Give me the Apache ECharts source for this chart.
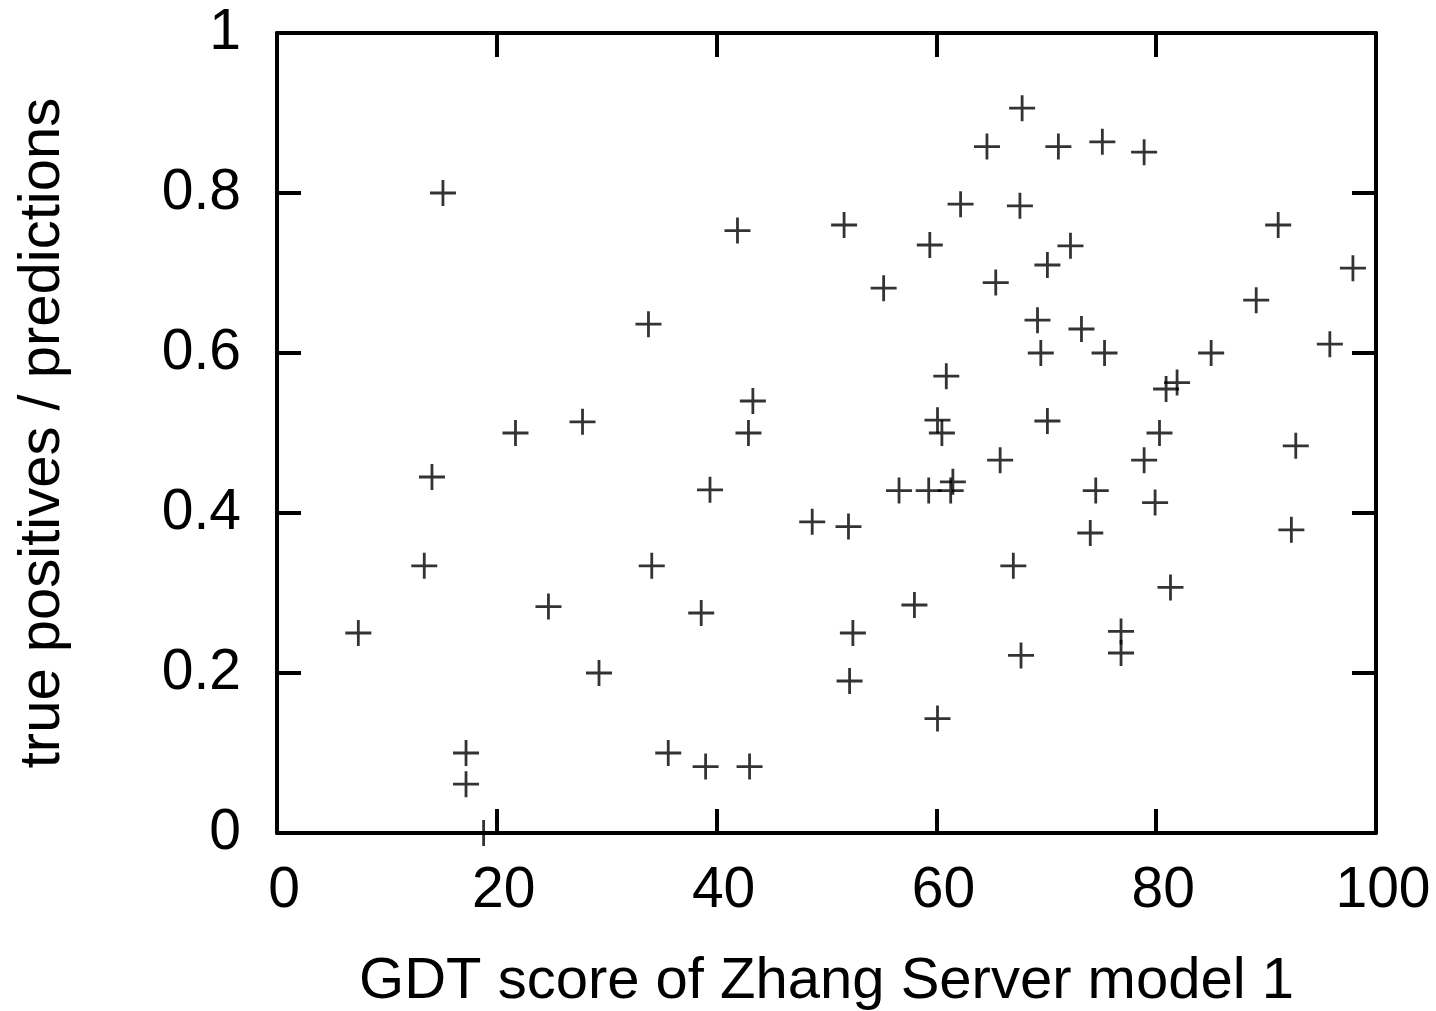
<!DOCTYPE html>
<html>
<head>
<meta charset="utf-8">
<title>GDT score vs precision</title>
<script src="https://cdn.jsdelivr.net/npm/echarts@6/dist/echarts.min.js"></script>
<style>
  html, body { margin: 0; padding: 0; background: #fff; }
  #chart { width: 1436px; height: 1011px; }
</style>
</head>
<body>
<div id="chart"></div>
<script>
// GDT score of Zhang Server model 1 (x)
const gdtScores = [
  7.4, 15.1, 14.1, 13.4, 17.2, 17.2, 18.8, 21.7, 24.7, 27.8,
  29.3, 33.8, 34.1, 35.6, 38.6, 39.0, 39.4, 41.9, 42.9, 43.3,
  43.0, 48.7, 51.6, 52.0, 52.4, 52.1, 55.2, 56.6, 58.0, 59.4,
  59.3, 60.1, 60.5, 60.9, 61.3, 61.5, 60.1, 62.2, 64.6, 65.4,
  65.8, 67.0, 67.8, 67.6, 67.7, 69.2, 69.5, 70.1, 70.1, 71.1,
  72.2, 73.2, 74.0, 74.5, 75.1, 75.3, 76.8, 76.8, 78.9, 78.9,
  80.3, 79.9, 80.9, 81.9, 81.3, 85.0, 89.1, 91.1, 92.3, 92.7,
  95.8, 97.9
]
// true positives / predictions (y)
const ratios = [
  0.25, 0.80, 0.445, 0.334, 0.10, 0.061, 0.0, 0.50, 0.283, 0.514,
  0.20, 0.636, 0.334, 0.10, 0.275, 0.083, 0.429, 0.753, 0.50, 0.54,
  0.083, 0.389, 0.76, 0.383, 0.25, 0.19, 0.681, 0.428, 0.285, 0.735,
  0.428, 0.516, 0.50, 0.571, 0.428, 0.439, 0.143, 0.786, 0.858, 0.688,
  0.466, 0.334, 0.906, 0.784, 0.222, 0.641, 0.60, 0.71, 0.515, 0.858,
  0.734, 0.63, 0.375, 0.428, 0.864, 0.60, 0.252, 0.225, 0.851, 0.466,
  0.50, 0.413, 0.555, 0.563, 0.307, 0.60, 0.666, 0.76, 0.379, 0.484,
  0.611, 0.706
]
const xTicks = [0, 20, 40, 60, 80, 100]
const yTicks = [0, 0.2, 0.4, 0.6, 0.8, 1]

const points = gdtScores.map((x, i) => [x, ratios[i]])

const font = 'Liberation Sans, Arial, sans-serif'
const lineStyle = { color: '#000', width: 4 }
const tickStyle = { color: '#000', width: 4 }

// 十字形标记 (gnuplot 风格的 "+")
const plusPath = 'path://M11.6,0H14.4V11.6H26V14.4H14.4V26H11.6V14.4H0V11.6H11.6Z'

const chart = echarts.init(document.getElementById('chart'), null, { renderer: 'canvas' })

chart.setOption({
  backgroundColor: '#fff',
  animation: false,
  grid: { left: 277, top: 33, width: 1099, height: 800, outerBoundsMode: 'none', containLabel: false },
  xAxis: [
    {
      type: 'value',
      min: 0,
      max: 100,
      interval: 20,
      position: 'bottom',
      name: 'GDT score of Zhang Server model 1',
      nameLocation: 'middle',
      nameGap: 120,
      nameTextStyle: { color: '#000', fontSize: 58, fontFamily: font },
      axisLine: { show: true, onZero: false, lineStyle: lineStyle },
      axisTick: { show: true, inside: true, length: 24, lineStyle: tickStyle },
      axisLabel: {
        color: '#000', fontSize: 57, fontFamily: font, margin: 30,
        padding: [0, 0, 0, 14],
        formatter: v => xTicks.includes(v) ? String(v) : ''
      },
      splitLine: { show: false }
    },
    {
      type: 'value',
      min: 0,
      max: 100,
      interval: 20,
      position: 'top',
      axisLine: { show: true, onZero: false, lineStyle: lineStyle },
      axisTick: { show: true, inside: true, length: 24, lineStyle: tickStyle },
      axisLabel: { show: false },
      splitLine: { show: false }
    }
  ],
  yAxis: [
    {
      type: 'value',
      min: 0,
      max: 1,
      interval: 0.2,
      position: 'left',
      name: 'true positives / predictions',
      nameLocation: 'middle',
      nameGap: 205,
      nameTextStyle: { color: '#000', fontSize: 58, fontFamily: font },
      axisLine: { show: true, onZero: false, lineStyle: lineStyle },
      axisTick: { show: true, inside: true, length: 24, lineStyle: tickStyle },
      axisLabel: {
        color: '#000', fontSize: 57, fontFamily: font, margin: 36,
        padding: [6, 0, 0, 0],
        formatter: v => {
          const t = yTicks.find(k => Math.abs(k - v) < 1e-9)
          return t === undefined ? '' : String(t)
        }
      },
      splitLine: { show: false }
    },
    {
      type: 'value',
      min: 0,
      max: 1,
      interval: 0.2,
      position: 'right',
      axisLine: { show: true, onZero: false, lineStyle: lineStyle },
      axisTick: { show: true, inside: true, length: 24, lineStyle: tickStyle },
      axisLabel: { show: false },
      splitLine: { show: false }
    }
  ],
  series: [
    {
      type: 'scatter',
      xAxisIndex: 0,
      yAxisIndex: 0,
      clip: false,
      symbol: plusPath,
      symbolSize: 26,
      itemStyle: { color: '#000' },
      data: points
    }
  ]
})
</script>
</body>
</html>
